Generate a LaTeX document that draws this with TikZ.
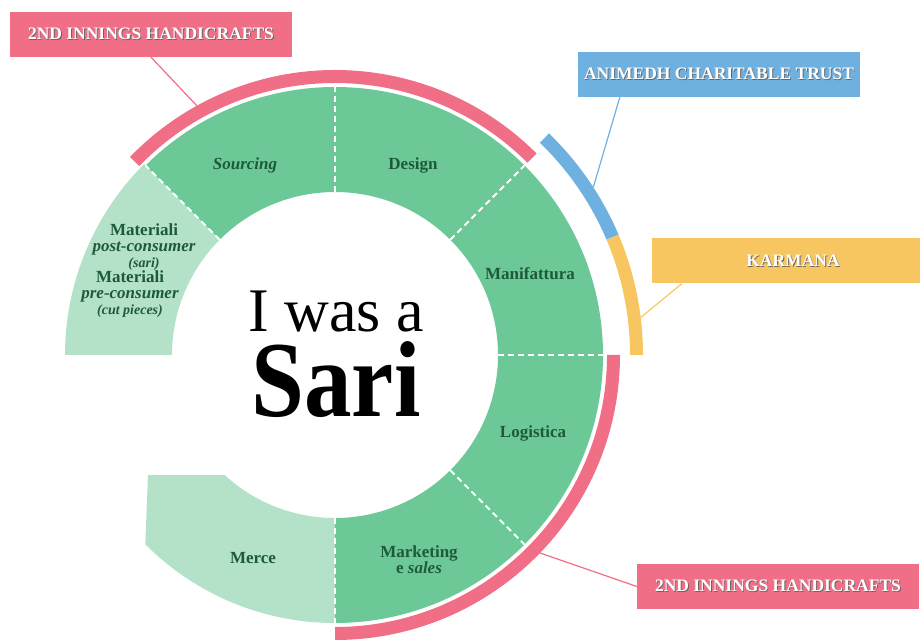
\documentclass[tikz,border=0pt]{standalone}
\usepackage{fontspec}
\setmainfont{Liberation Serif}
\usetikzlibrary{calc}
\definecolor{leaf}{HTML}{6CC997}
\definecolor{mint}{HTML}{B3E2C9}
\definecolor{rose}{HTML}{F06E86}
\definecolor{sky}{HTML}{6EB0E0}
\definecolor{sun}{HTML}{F8C660}
\definecolor{ink}{HTML}{1E5A3A}
% white letters with a small dark drop shadow
\newcommand{\embossed}[1]{\rlap{\hspace{0.9pt}\raisebox{-0.9pt}{\textcolor{black!60}{#1}}}\textcolor{white}{#1}}
% ring sector: colour, start, end, inner radius, outer radius
\newcommand{\ringseg}[5]{\fill[#1] (#2:#5) arc[start angle=#2, end angle=#3, radius=#5]
  -- (#3:#4) arc[start angle=#3, end angle=#2, radius=#4] -- cycle;}
\tikzset{
  phase/.style = {align=center, inner sep=0pt, text=ink,
    font=\fontsize{17}{16}\selectfont\bfseries},
  divider/.style = {white, line width=1.8pt, dash pattern=on 6pt off 4pt},
  tagbox/.style = {minimum width=282pt, minimum height=45pt, inner sep=0pt,
    font=\fontsize{17.5}{20}\selectfont\bfseries},
  tie/.style = {line width=1.2pt}
}

\begin{document}
\begin{tikzpicture}[x=1pt,y=1pt]
  \useasboundingbox (0,0) rectangle (920,640);
  \begin{scope}[shift={(335,285)}]
    % raw material and goods
    \ringseg{mint}{135}{180}{163pt}{270pt}
    \begin{scope}
      \clip (-187,-120) -- (0,-120) -- (0,-300) -- (-192,-300) -- (-190,-197) -- cycle;
      \ringseg{mint}{-180}{-90}{163pt}{268pt}
    \end{scope}
    % production chain
    \ringseg{leaf}{-90}{135}{163pt}{268pt}
    \foreach \a in {-90,-45,...,135}
      \draw[divider] (\a:163pt) -- (\a:268pt);
    % partners
    \ringseg{rose}{45}{136}{272pt}{285pt}
    \ringseg{rose}{-90}{0}{272pt}{285pt}
    \ringseg{sky}{23}{46}{295pt}{308pt}
    \ringseg{sun}{0}{23}{295pt}{308pt}
    \coordinate (roseA) at (119:285pt);
    \coordinate (roseB) at (-44:285pt);
    \coordinate (skyA) at (33:308pt);
    \coordinate (sunA) at (7:308pt);
  \end{scope}

  \node[phase, anchor=base] (sourcing) at (245,470) {\itshape Sourcing};
  \node[phase, anchor=base] (design) at (413,470) {Design};
  \node[phase, anchor=base] (manif) at (530,360) {Manifattura};
  \node[phase, anchor=base] (logist) at (533,203) {Logistica};
  \node[phase] (market) at (419,80) {Marketing\\e \itshape sales};
  \node[phase, anchor=base] (merce) at (253,77) {Merce};
  \node[phase] (postc) at (144,393) {Materiali\\\itshape post-consumer\\
    {\fontsize{14}{15}\selectfont\itshape (sari)}};
  \node[phase] (prec) at (130,346) {Materiali\\\itshape pre-consumer\\
    {\fontsize{14}{15}\selectfont\itshape (cut pieces)}};

  \node[anchor=base, inner sep=0pt, font=\fontsize{62}{62}\selectfont] (title) at (336,308) {I was a};
  \node[anchor=base, inner sep=0pt, font=\fontsize{108}{108}\selectfont\bfseries] (sari) at (336,223)
    {\scalebox{0.88}[1]{Sari}};

  \node[tagbox, fill=rose] (innTop) at (151,605.5) {\embossed{2ND INNINGS HANDICRAFTS}};
  \node[tagbox, fill=sky] (trust) at (719,565.5) {\embossed{ANIMEDH CHARITABLE TRUST}};
  \node[tagbox, fill=sun] (karmana) at (793,379) {\embossed{KARMANA}};
  \node[tagbox, fill=rose] (innLow) at (778,53.5) {\embossed{2ND INNINGS HANDICRAFTS}};

  \draw[rose, tie] (innTop.south) -- (roseA);
  \draw[sky, tie] ($(trust.south west)+(42,0)$) -- (skyA);
  \draw[sun, tie] ($(karmana.south west)+(30,0)$) -- (sunA);
  \draw[rose, tie] (innLow.west) -- (roseB);
\end{tikzpicture}
\end{document}
